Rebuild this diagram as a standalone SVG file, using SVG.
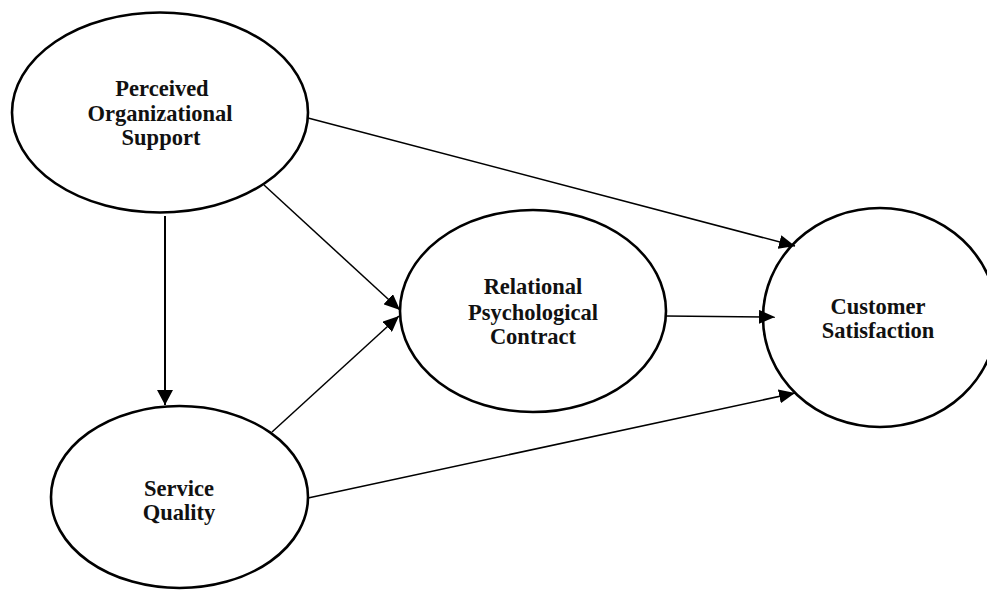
<svg xmlns="http://www.w3.org/2000/svg" width="987" height="590" viewBox="0 0 987 590">
<style>
.node ellipse{fill:#fff;stroke:#000;stroke-width:2.6}
.node text{font-family:"Liberation Serif","Times New Roman",serif;font-weight:bold;font-size:22.5px;fill:#111;text-anchor:middle}
.edge{stroke:#000;stroke-width:1.5;fill:none}
</style>
<defs>
<marker id="ah" markerUnits="userSpaceOnUse" markerWidth="17" markerHeight="14" refX="16" refY="7" orient="auto">
<path d="M0,0 L16,7 L0,14 z" fill="#000"/>
</marker>
<marker id="ah2" markerUnits="userSpaceOnUse" markerWidth="16" markerHeight="17" refX="15" refY="8" orient="auto">
<path d="M0,0 L15,8 L0,16 z" fill="#000"/>
</marker>
</defs>
<g id="pos" class="node">
<ellipse cx="160" cy="112.5" rx="148" ry="100"/>
<text x="162" y="96">Perceived</text>
<text x="160" y="121">Organizational</text>
<text x="161" y="145">Support</text>
</g>
<g id="sq" class="node">
<ellipse cx="179.5" cy="497" rx="128.5" ry="91"/>
<text x="179" y="496">Service</text>
<text x="179" y="520">Quality</text>
</g>
<g id="rpc" class="node">
<ellipse cx="533" cy="311" rx="133" ry="101"/>
<text x="533" y="294">Relational</text>
<text x="533" y="320">Psychological</text>
<text x="533" y="344">Contract</text>
</g>
<g id="cs" class="node">
<ellipse cx="880" cy="317.5" rx="117" ry="109.5"/>
<text x="878" y="314">Customer</text>
<text x="878" y="338">Satisfaction</text>
</g>
<g id="connectors">
<line class="edge" x1="308" y1="118" x2="795" y2="246" marker-end="url(#ah)"/>
<line class="edge" x1="264" y1="185" x2="400" y2="310" marker-end="url(#ah)"/>
<line class="edge" x1="272" y1="432" x2="399" y2="316" marker-end="url(#ah)"/>
<line class="edge" x1="308" y1="498" x2="795" y2="393" marker-end="url(#ah)"/>
<line class="edge" x1="666" y1="316" x2="775" y2="317" marker-end="url(#ah)"/>
<line class="edge" style="stroke-width:2" x1="165" y1="216" x2="165" y2="405" marker-end="url(#ah2)"/>
</g>
</svg>
